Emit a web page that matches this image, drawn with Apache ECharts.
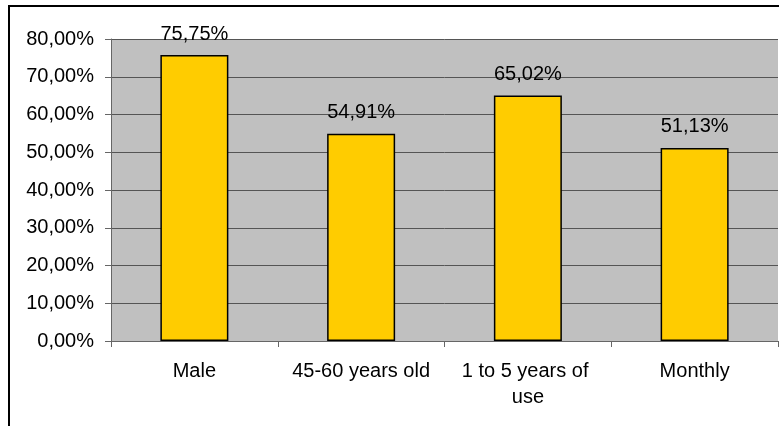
<!DOCTYPE html>
<html>
<head>
<meta charset="utf-8">
<script src="https://cdn.jsdelivr.net/npm/echarts@6/dist/echarts.min.js"></script>
<style>
html,body{margin:0;padding:0;background:#fff;}
#chart{width:779px;height:426px;}
</style>
</head>
<body>
<div id="chart"></div>
<script>
var categories = ['Male', '45-60 years old', '1 to 5 years of use', 'Monthly'];
var values = [75.75, 54.91, 65.02, 51.13];
var yTicks = [0, 10, 20, 30, 40, 50, 60, 70, 80];

function fmt(v){ return v.toFixed(2).replace('.', ',') + '%'; }

var chart = echarts.init(document.getElementById('chart'));
var font = 'Liberation Sans, Arial, sans-serif';
chart.setOption({
  animation: false,
  backgroundColor: '#ffffff',
  graphic: [{
    type: 'rect',
    shape: {x: 9, y: 6, width: 900, height: 600},
    style: {fill: 'none', stroke: '#000', lineWidth: 2},
    silent: true, z: 100
  }],
  grid: {left: 111, top: 39, right: 1, bottom: 85, show: true, backgroundColor: '#c0c0c0', borderWidth: 0},
  xAxis: {
    type: 'category',
    data: categories,
    axisLine: {show: true, lineStyle: {color: '#666', width: 1}},
    axisTick: {show: true, length: 6, alignWithLabel: false, lineStyle: {color: '#666'}},
    axisLabel: {color: '#000', fontSize: 20, fontFamily: font, margin: 17, width: 155, overflow: 'break', lineHeight: 26, interval: 0}
  },
  yAxis: {
    type: 'value',
    min: yTicks[0], max: yTicks[yTicks.length - 1], interval: 10,
    axisLine: {show: true, lineStyle: {color: '#666', width: 1}},
    axisTick: {show: true, length: 6, lineStyle: {color: '#666'}},
    splitLine: {show: true, lineStyle: {color: '#555', width: 1}},
    axisLabel: {color: '#000', fontSize: 20, fontFamily: font, margin: 17, formatter: function(v){ return fmt(v); }}
  },
  series: [{
    type: 'bar',
    data: values,
    barWidth: 68,
    itemStyle: {color: '#ffcc00', borderColor: '#000', borderWidth: 1.5},
    label: {show: true, position: 'top', distance: 11, color: '#000', fontSize: 20, fontFamily: font, formatter: function(p){ return fmt(p.value); }}
  }]
});
</script>
</body>
</html>
